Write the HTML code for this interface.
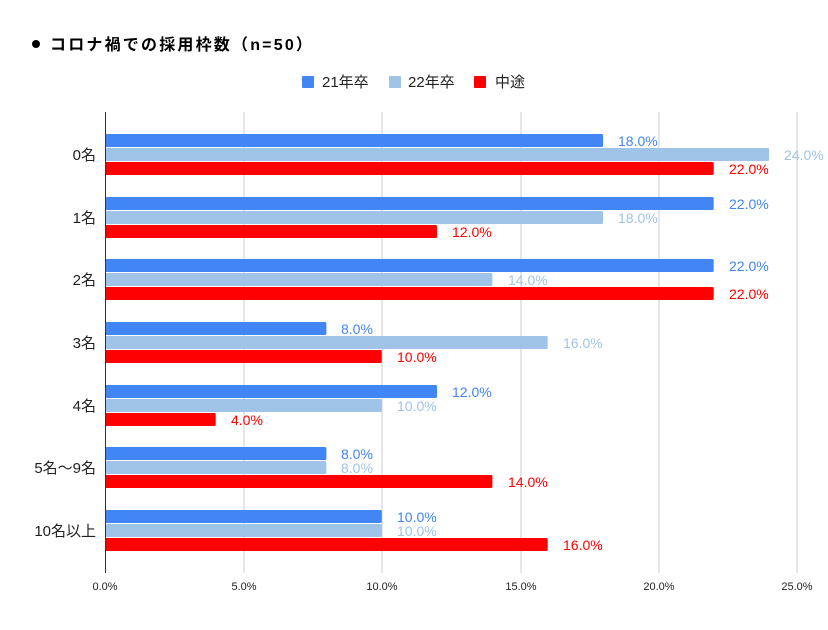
<!DOCTYPE html>
<html><head><meta charset="utf-8"><style>
body{margin:0;background:#fff;}
svg text{font-family:"Liberation Sans","Noto Sans CJK JP",sans-serif;}
</style></head><body>
<svg width="828" height="625" xmlns="http://www.w3.org/2000/svg">
<rect width="828" height="625" fill="#fff"/>
<circle cx="36" cy="44" r="4" fill="#000"/>
<text x="50" y="50" font-size="16" font-weight="bold" letter-spacing="2.2" fill="#000">コロナ禍での採用枠数（n=50）</text>
<rect x="302" y="76" width="12" height="12" rx="1" fill="#4285f4"/>
<text x="322" y="87" font-size="15" fill="#222">21年卒</text>
<rect x="389" y="76" width="12" height="12" rx="1" fill="#a0c3e8"/>
<text x="408" y="87" font-size="15" fill="#222">22年卒</text>
<rect x="474" y="76" width="12" height="12" rx="1" fill="#ff0000"/>
<text x="495" y="87" font-size="15" fill="#222">中途</text>
<g stroke="#cccccc" stroke-width="1">
<line x1="244" y1="112" x2="244" y2="573"/>
<line x1="382" y1="112" x2="382" y2="573"/>
<line x1="521" y1="112" x2="521" y2="573"/>
<line x1="659" y1="112" x2="659" y2="573"/>
<line x1="797" y1="112" x2="797" y2="573"/>
</g>
<g font-size="11" fill="#222" text-anchor="middle">
<text x="105" y="590">0.0%</text><text x="244" y="590">5.0%</text><text x="382" y="590">10.0%</text>
<text x="521" y="590">15.0%</text><text x="659" y="590">20.0%</text><text x="797" y="590">25.0%</text>
</g>
<g font-size="15" fill="#222" text-anchor="end">
<text x="96" y="160">0名</text>
<text x="96" y="223">1名</text>
<text x="96" y="285">2名</text>
<text x="96" y="348">3名</text>
<text x="96" y="411">4名</text>
<text x="96" y="473">5名〜9名</text>
<text x="96" y="536">10名以上</text>
</g>
<g font-size="14">
<!-- 0名 -->
<rect x="105" y="134" width="498.1" height="13" rx="1.5" fill="#4285f4"/><text x="618" y="146" fill="#4285f4">18.0%</text>
<rect x="105" y="148" width="664.1" height="13" rx="1.5" fill="#a0c3e8"/><text x="784" y="160" fill="#a0c3e8">24.0%</text>
<rect x="105" y="162" width="608.7" height="13" rx="1.5" fill="#ff0000"/><text x="729" y="174" fill="#ff0000">22.0%</text>
<!-- 1名 -->
<rect x="105" y="197" width="608.7" height="13" rx="1.5" fill="#4285f4"/><text x="729" y="209" fill="#4285f4">22.0%</text>
<rect x="105" y="211" width="498.1" height="13" rx="1.5" fill="#a0c3e8"/><text x="618" y="223" fill="#a0c3e8">18.0%</text>
<rect x="105" y="225" width="332" height="13" rx="1.5" fill="#ff0000"/><text x="452" y="237" fill="#ff0000">12.0%</text>
<!-- 2名 -->
<rect x="105" y="259" width="608.7" height="13" rx="1.5" fill="#4285f4"/><text x="729" y="271" fill="#4285f4">22.0%</text>
<rect x="105" y="273" width="387.4" height="13" rx="1.5" fill="#a0c3e8"/><text x="508" y="285" fill="#a0c3e8">14.0%</text>
<rect x="105" y="287" width="608.7" height="13" rx="1.5" fill="#ff0000"/><text x="729" y="299" fill="#ff0000">22.0%</text>
<!-- 3名 -->
<rect x="105" y="322" width="221.4" height="13" rx="1.5" fill="#4285f4"/><text x="341" y="334" fill="#4285f4">8.0%</text>
<rect x="105" y="336" width="442.7" height="13" rx="1.5" fill="#a0c3e8"/><text x="563" y="348" fill="#a0c3e8">16.0%</text>
<rect x="105" y="350" width="276.7" height="13" rx="1.5" fill="#ff0000"/><text x="397" y="362" fill="#ff0000">10.0%</text>
<!-- 4名 -->
<rect x="105" y="385" width="332" height="13" rx="1.5" fill="#4285f4"/><text x="452" y="397" fill="#4285f4">12.0%</text>
<rect x="105" y="399" width="276.7" height="13" rx="1.5" fill="#a0c3e8"/><text x="397" y="411" fill="#a0c3e8">10.0%</text>
<rect x="105" y="413" width="110.7" height="13" rx="1.5" fill="#ff0000"/><text x="231" y="425" fill="#ff0000">4.0%</text>
<!-- 5-9 -->
<rect x="105" y="447" width="221.4" height="13" rx="1.5" fill="#4285f4"/><text x="341" y="459" fill="#4285f4">8.0%</text>
<rect x="105" y="461" width="221.4" height="13" rx="1.5" fill="#a0c3e8"/><text x="341" y="473" fill="#a0c3e8">8.0%</text>
<rect x="105" y="475" width="387.4" height="13" rx="1.5" fill="#ff0000"/><text x="508" y="487" fill="#ff0000">14.0%</text>
<!-- 10+ -->
<rect x="105" y="510" width="276.7" height="13" rx="1.5" fill="#4285f4"/><text x="397" y="522" fill="#4285f4">10.0%</text>
<rect x="105" y="524" width="276.7" height="13" rx="1.5" fill="#a0c3e8"/><text x="397" y="536" fill="#a0c3e8">10.0%</text>
<rect x="105" y="538" width="442.7" height="13" rx="1.5" fill="#ff0000"/><text x="563" y="550" fill="#ff0000">16.0%</text>
</g>
<line x1="105.5" y1="112" x2="105.5" y2="573" stroke="#333" stroke-width="1"/>
</svg>
</body></html>
